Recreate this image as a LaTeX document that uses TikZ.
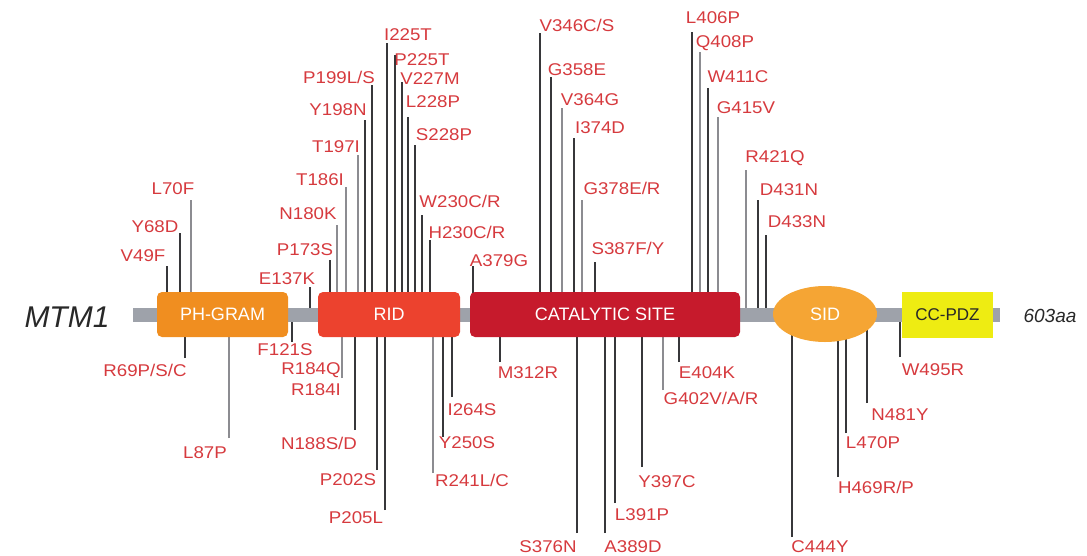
\documentclass[tikz,border=0pt]{standalone}
\usepackage{fontspec}
\setmainfont{Liberation Sans}
\newfontfamily\labf[FakeStretch=1.1]{Liberation Sans}
\usetikzlibrary{shapes.geometric}
\definecolor{labred}{RGB}{214,58,62}
\definecolor{lndark}{RGB}{55,55,58}
\definecolor{lnlight}{RGB}{140,140,145}
\definecolor{bargray}{RGB}{158,162,170}
\definecolor{phcol}{RGB}{240,142,32}
\definecolor{ridcol}{RGB}{236,66,46}
\definecolor{catcol}{RGB}{198,26,44}
\definecolor{sidcol}{RGB}{245,165,52}
\definecolor{pdzcol}{RGB}{238,236,18}
\definecolor{txtdark}{RGB}{40,40,40}
\newcommand\mutation[7]{%
  \node[lab] (n#1) at (#3,#4) {#2};
  \coordinate (e#1) at (#5,#6);
  \draw[#7] (e#1) -- (e#1 |- axis);}
\begin{document}
\begin{tikzpicture}[x=1pt,y=-1pt,
  lab/.style={text=labred, font=\labf\fontsize{17}{17}\selectfont, inner sep=0pt},
  ln/.style={draw=lndark, line width=1.6pt},
  lnl/.style={draw=lnlight, line width=1.6pt},
  dom/.style={rectangle, rounded corners=5pt, minimum height=45pt, inner sep=0pt,
    text=white, font=\fontsize{18}{18}\selectfont},
  bar/.style={rectangle, fill=bargray, minimum height=14pt, inner sep=0pt}]
\useasboundingbox (0,0) rectangle (1087,555);
\coordinate (axis) at (0,314.5);
% top mutations
\mutation{a1}{L70F}{173}{189}{191}{200}{lnl}
\mutation{a2}{Y68D}{155}{227}{180}{233}{ln}
\mutation{a3}{V49F}{143}{256}{167}{266}{ln}
\mutation{b1}{E137K}{287}{279}{310}{287}{ln}
\mutation{b2}{P173S}{305}{250}{330}{260}{ln}
\mutation{b3}{N180K}{308}{214}{337}{225}{lnl}
\mutation{b4}{T186I}{320}{180}{346}{187}{lnl}
\mutation{b5}{T197I}{336}{147}{358}{155}{lnl}
\mutation{b6}{Y198N}{338}{110}{365}{120}{ln}
\mutation{b7}{P199L/S}{339}{77}{372}{85}{ln}
\mutation{b8}{I225T}{408}{35}{387}{43}{ln}
\mutation{b9}{P225T}{422}{60}{395}{55}{ln}
\mutation{b10}{V227M}{430}{79}{402}{82}{ln}
\mutation{b11}{L228P}{433}{102}{408}{117}{ln}
\mutation{b12}{S228P}{444}{135}{415}{145}{ln}
\mutation{b13}{W230C/R}{460}{201}{422}{215}{ln}
\mutation{b14}{H230C/R}{467}{232}{430}{240}{ln}
\mutation{c0}{A379G}{499}{261}{473}{266}{ln}
\mutation{c1}{V346C/S}{577}{25}{540}{33}{ln}
\mutation{c2}{G358E}{577}{70}{551}{77}{ln}
\mutation{c3}{V364G}{590}{100}{562}{108}{lnl}
\mutation{c4}{I374D}{600}{128}{574}{138}{ln}
\mutation{c5}{G378E/R}{622}{188}{582}{200}{lnl}
\mutation{c6}{S387F/Y}{628}{248}{595}{262}{ln}
\mutation{d1}{L406P}{713}{18}{692}{32}{ln}
\mutation{d2}{Q408P}{725}{43}{700}{52}{lnl}
\mutation{d3}{W411C}{738}{77}{708}{88}{ln}
\mutation{d4}{G415V}{746}{108}{718}{117}{lnl}
\mutation{d5}{R421Q}{775}{158}{746}{170}{lnl}
\mutation{d6}{D431N}{789}{190}{758}{200}{ln}
\mutation{d7}{D433N}{797}{222}{766}{235}{ln}
% bottom mutations
\mutation{e1}{R69P/S/C}{145}{370}{185}{358}{ln}
\mutation{e2}{L87P}{205}{453}{229}{438}{lnl}
\mutation{e3}{F121S}{285}{350}{292}{342}{ln}
\mutation{e4}{R184Q}{311}{370}{342}{378}{lnl}
\node[lab] (nR184I) at (316,390) {R184I};
\mutation{e5}{N188S/D}{319}{443}{355}{430}{ln}
\mutation{e6}{P202S}{348}{480}{377}{470}{ln}
\mutation{e7}{P205L}{356}{518}{385}{510}{ln}
\mutation{e8}{R241L/C}{472}{480}{433}{473}{lnl}
\mutation{e9}{Y250S}{467}{443}{443}{437}{ln}
\mutation{e10}{I264S}{472}{410}{452}{397}{ln}
\mutation{f1}{M312R}{528}{373}{500}{362}{ln}
\mutation{f2}{S376N}{548}{547}{577}{533}{ln}
\mutation{f3}{A389D}{633}{547}{605}{533}{ln}
\mutation{f4}{L391P}{642}{515}{615}{503}{ln}
\mutation{f5}{Y397C}{667}{482}{642}{467}{ln}
\mutation{f6}{E404K}{707}{373}{679}{362}{ln}
\mutation{f7}{G402V/A/R}{711}{398}{663}{390}{lnl}
\mutation{g1}{C444Y}{820}{547}{792}{537}{ln}
\mutation{g2}{H469R/P}{876}{487}{838}{477}{ln}
\mutation{g3}{L470P}{873}{443}{846}{433}{ln}
\mutation{g4}{N481Y}{900}{415}{867}{403}{ln}
\mutation{g5}{W495R}{933}{370}{900}{357}{ln}
% backbone and domains
\node[bar, minimum width=867pt] (bar) at (566.5,314.5) {};
\node[dom, fill=phcol, minimum width=131pt] (ph) at (222.5,314.5) {PH-GRAM};
\node[dom, fill=ridcol, minimum width=142pt] (rid) at (389,314.5) {RID};
\node[dom, fill=catcol, minimum width=270pt] (cat) at (605,314.5) {CATALYTIC SITE};
\node[ellipse, fill=sidcol, minimum width=104pt, minimum height=56pt, inner sep=0pt,
  text=white, font=\fontsize{18}{18}\selectfont] (sid) at (825,314) {SID};
\node[rectangle, fill=pdzcol, minimum width=91pt, minimum height=46pt, inner sep=0pt,
  text=txtdark, font=\fontsize{17}{17}\selectfont] (pdz) at (947.5,314.5) {CC-PDZ};
\node[text=txtdark, font=\itshape\fontsize{30}{30}\selectfont, inner sep=0pt] (mtm) at (67,317) {MTM1};
\node[text=txtdark, font=\itshape\fontsize{19}{19}\selectfont, inner sep=0pt] (len) at (1050,316) {603aa};
\end{tikzpicture}
\end{document}
